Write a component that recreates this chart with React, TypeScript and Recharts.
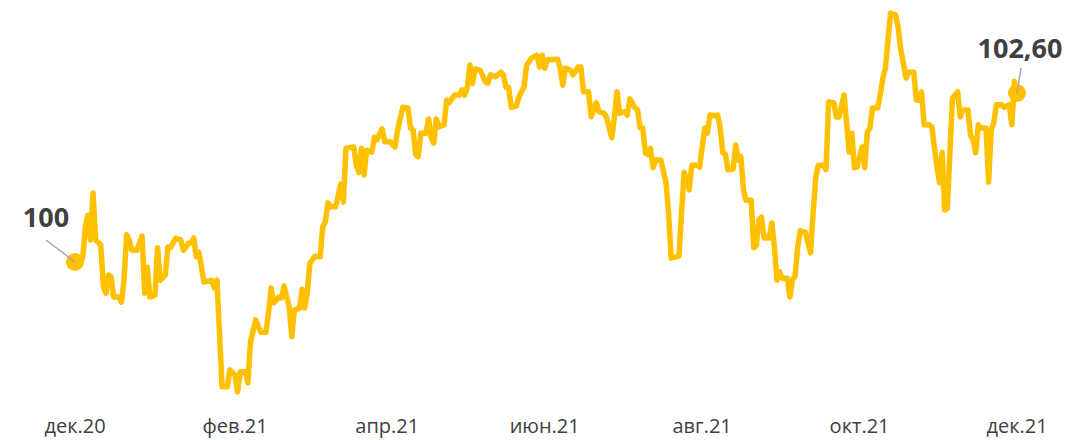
import React from "react";
import { LineChart, Line, XAxis, YAxis } from "recharts";

// calendar day offset from 1 Dec 2020
const days = [
  0, 3, 4, 5, 6, 7, 8, 10, 11, 12, 13, 14, 15, 17, 18, 19, 20, 21, 22, 24,
  26, 27, 28, 29, 31, 32, 33, 35, 36, 37, 39, 41, 42, 44, 45, 46, 47, 48, 50, 53,
  54, 55, 57, 59, 60, 62, 63, 64, 66, 67, 68, 70, 72, 74, 75, 76, 77, 79, 80, 81,
  83, 84, 85, 87, 88, 89, 90, 91, 93, 95, 96, 97, 98, 99, 101, 103, 104, 105, 108, 109,
  110, 111, 112, 113, 115, 116, 117, 119, 120, 122, 124, 125, 127, 129, 130, 131, 132, 133, 134, 136,
  137, 138, 139, 140, 141, 143, 144, 145, 147, 149, 150, 151, 152, 153, 154, 155, 157, 159, 160, 161,
  163, 165, 166, 167, 168, 169, 171, 172, 174, 175, 177, 179, 180, 181, 182, 183, 187, 188, 189, 190,
  192, 193, 195, 196, 197, 199, 200, 202, 203, 205, 206, 208, 209, 210, 211, 213, 214, 215, 217, 218,
  219, 220, 221, 222, 223, 224, 225, 227, 229, 230, 231, 233, 234, 236, 237, 238, 239, 241, 242, 244,
  245, 246, 248, 249, 250, 251, 252, 253, 255, 256, 257, 258, 259, 260, 262, 263, 264, 265, 266, 267,
  269, 270, 271, 272, 273, 274, 276, 277, 278, 279, 280, 281, 283, 285, 286, 287, 288, 290, 291, 292,
  294, 295, 296, 298, 300, 301, 302, 303, 305, 306, 307, 308, 309, 311, 312, 313, 314, 316, 318, 319,
  320, 322, 323, 325, 326, 327, 328, 329, 331, 332, 334, 335, 336, 337, 338, 340, 342, 343, 344, 346,
  347, 348, 349, 350, 351, 353, 354, 355, 356, 357, 359, 360, 362, 363, 364, 365,
];

const values = [
  100.0, 100.06, 100.54, 100.72, 100.34, 101.06, 100.34, 100.26, 99.62, 99.52, 99.8, 99.77, 99.46, 99.46, 99.38, 99.72, 100.42, 100.34, 100.18, 100.18,
  100.4, 99.52, 99.92, 99.46, 99.49, 100.22, 99.72, 99.8, 100.23, 100.22, 100.37, 100.34, 100.18, 100.29, 100.29, 100.37, 100.08, 100.15, 99.69, 99.72,
  99.6, 99.72, 98.08, 98.08, 98.34, 98.26, 98.0, 98.31, 98.31, 98.14, 98.77, 99.11, 98.92, 98.92, 99.22, 99.6, 99.37, 99.46, 99.45, 99.63,
  99.31, 98.85, 99.26, 99.29, 99.58, 99.29, 99.52, 99.98, 100.09, 100.08, 100.54, 100.62, 100.91, 100.85, 100.85, 101.2, 100.92, 101.75, 101.77, 101.49,
  101.38, 101.75, 101.34, 101.72, 101.69, 101.92, 101.88, 102.05, 101.85, 101.85, 101.77, 102.03, 102.38, 102.37, 102.06, 102.03, 101.65, 101.62, 101.98, 101.98,
  102.2, 101.92, 101.83, 102.2, 102.08, 102.11, 102.49, 102.45, 102.57, 102.57, 102.65, 102.57, 102.68, 103.03, 102.75, 102.97, 102.95, 102.77, 102.75, 102.88,
  102.85, 102.92, 102.88, 102.69, 102.69, 102.38, 102.4, 102.54, 102.69, 103.03, 103.14, 103.18, 103.0, 103.18, 102.98, 103.11, 103.12, 102.98, 102.72, 102.98,
  102.95, 102.88, 103.0, 103.0, 102.62, 102.62, 102.23, 102.45, 102.31, 102.29, 102.22, 101.91, 102.23, 102.62, 102.29, 102.31, 102.26, 102.51, 102.37, 102.34,
  102.06, 102.06, 101.68, 101.65, 101.75, 101.45, 101.57, 101.57, 101.22, 100.75, 100.06, 100.08, 100.09, 101.38, 101.29, 101.11, 101.49, 101.49, 101.46, 102.06,
  101.98, 102.26, 102.25, 102.26, 102.06, 101.68, 101.66, 101.42, 101.43, 101.8, 101.57, 101.62, 101.11, 100.95, 100.95, 100.22, 100.26, 100.65, 100.69, 100.37,
  100.37, 100.6, 100.23, 99.72, 99.85, 99.75, 99.75, 99.46, 99.72, 99.78, 100.22, 100.48, 100.46, 100.14, 100.75, 101.29, 101.49, 101.49, 101.42, 102.46,
  102.45, 102.23, 102.23, 102.57, 101.69, 101.98, 101.45, 101.46, 101.77, 101.45, 102.0, 102.06, 102.37, 102.37, 102.57, 102.82, 102.98, 103.83, 103.8, 103.6,
  103.26, 102.83, 102.92, 102.92, 102.49, 102.49, 102.62, 102.11, 102.11, 102.08, 101.46, 101.22, 101.69, 100.8, 100.82, 102.52, 102.62, 102.23, 102.34, 102.34,
  101.95, 101.88, 101.68, 102.11, 102.06, 102.06, 101.23, 102.03, 102.14, 102.42, 102.42, 102.38, 102.42, 102.11, 102.78, 102.6,
];

const tickDays = [0, 62, 121, 182, 243, 304, 365];
const tickLabels = ["дек.20", "фев.21", "апр.21", "июн.21", "авг.21", "окт.21", "дек.21"];

const data = days.map((d, i) => ({ day: d, value: values[i] }));

const LINE_COLOR = "#FFC000";
const TEXT_COLOR = "#404040";
const FONT = "'Open Sans', 'Noto Sans', sans-serif";

const fmt = (v: number) =>
  Number.isInteger(v) ? String(v) : v.toFixed(2).replace(".", ",");

const EndDot = (props: any) => {
  const { cx, cy, index, value } = props;
  const last = data.length - 1;
  if (index !== 0 && index !== last) return <g key={`d-${index}`} />;
  if (index === 0) {
    return (
      <g key={`d-${index}`}>
        <circle cx={cx} cy={cy} r={9} fill={LINE_COLOR} />
        <line x1={cx - 29} y1={cy - 22} x2={cx} y2={cy} stroke="#A6A6A6" strokeWidth={1.5} />
        <text x={cx - 29} y={cy - 35} textAnchor="middle" fontFamily={FONT} fontWeight={700} fontSize={27} fill={TEXT_COLOR}>
          {fmt(value)}
        </text>
      </g>
    );
  }
  return (
    <g key={`d-${index}`}>
      <circle cx={cx} cy={cy} r={9} fill={LINE_COLOR} />
      <line x1={cx + 4} y1={cy - 25} x2={cx} y2={cy} stroke="#A6A6A6" strokeWidth={1.5} />
      <text x={cx + 3} y={cy - 35} textAnchor="middle" fontFamily={FONT} fontWeight={700} fontSize={27} fill={TEXT_COLOR}>
        {fmt(value)}
      </text>
    </g>
  );
};

export default function App() {
  return (
    <div style={{ position: "absolute", left: 0, top: 0, width: 1081, height: 440, background: "#fff" }}>
      <LineChart width={1081} height={440} data={data} margin={{ top: 2, right: 64, left: 75, bottom: 0 }}>
        <XAxis
          dataKey="day"
          type="number"
          domain={[0, 365]}
          ticks={tickDays}
          interval={0}
          tickFormatter={(d: number) => tickLabels[tickDays.indexOf(d)]}
          axisLine={false}
          tickLine={false}
          tickSize={0}
          tickMargin={14}
          height={35}
          tick={{ fontSize: 20, fill: TEXT_COLOR, fontFamily: FONT }}
        />
        <YAxis hide domain={[97.8, 104]} type="number" allowDataOverflow />
        <Line
          type="linear"
          dataKey="value"
          stroke={LINE_COLOR}
          strokeWidth={5.5}
          strokeLinejoin="round"
          dot={EndDot}
          activeDot={false}
          isAnimationActive={false}
        />
      </LineChart>
    </div>
  );
}
